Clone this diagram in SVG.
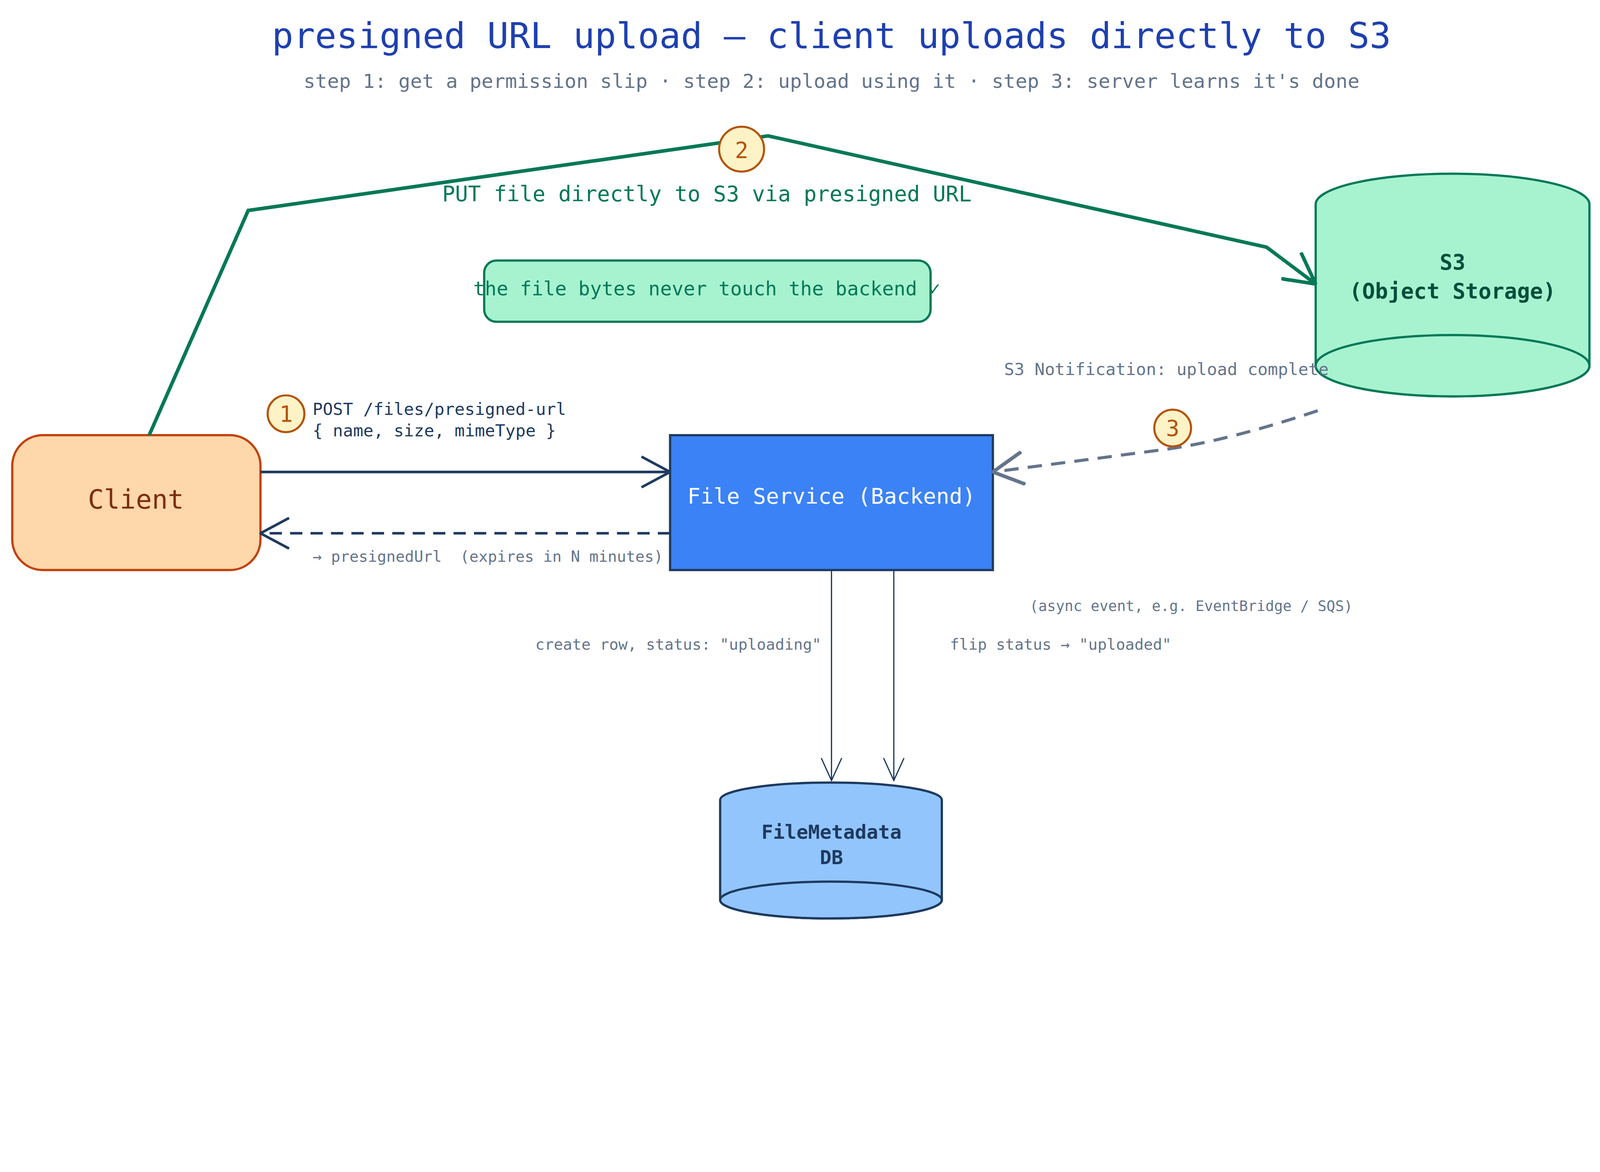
<svg xmlns="http://www.w3.org/2000/svg" width="5160" height="3000" viewBox="0 0 5160 3000">
<defs>
<style>
text{font-family:"DejaVu Sans Mono","Liberation Mono",monospace}
.c{text-anchor:middle}
.badge circle{fill:#fef3c7;stroke:#b45309;stroke-width:2}
.badge text{fill:#b45309;font-size:22px;text-anchor:middle}
.lbl{fill:#64748b}
</style>
<marker id="mNavy" markerUnits="userSpaceOnUse" viewBox="0 0 30 32" refX="29" refY="16" markerWidth="30" markerHeight="32" orient="auto"><polyline points="1,1 29,16 1,31" fill="none" stroke="#1e3a5f" stroke-width="2.5"/></marker>
<marker id="mGreen" markerUnits="userSpaceOnUse" viewBox="0 0 32 34" refX="31" refY="17" markerWidth="32" markerHeight="34" orient="auto"><polyline points="1,1 31,17 1,33" fill="none" stroke="#047857" stroke-width="3.5"/></marker>
<marker id="mGray" markerUnits="userSpaceOnUse" viewBox="0 0 32 34" refX="31" refY="17" markerWidth="32" markerHeight="34" orient="auto"><polyline points="1,1 31,17 1,33" fill="none" stroke="#64748b" stroke-width="3.5"/></marker>
<marker id="mThin" markerUnits="userSpaceOnUse" viewBox="0 0 24 22" refX="23" refY="11" markerWidth="24" markerHeight="22" orient="auto"><polyline points="1,1 23,11 1,21" fill="none" stroke="#1e3a5f" stroke-width="1.2"/></marker>
</defs>
<rect width="5160" height="3000" fill="#ffffff"/>
<g transform="scale(2.615)">
<text x="814" y="47" class="c" font-size="35" fill="#1e40af">presigned URL upload — client uploads directly to S3</text>
<text x="814" y="86" class="c" font-size="19.3" fill="#64748b">step 1: get a permission slip · step 2: upload using it · step 3: server learns it's done</text>

<g id="client">
<rect x="12" y="426" width="243" height="132" rx="30" fill="#fed7aa" stroke="#c2410c" stroke-width="2.2"/>
<text x="133" y="498" class="c" font-size="26" fill="#7c2d12">Client</text>
</g>
<g id="fileService">
<rect x="656" y="426" width="316" height="132" fill="#3b82f6" stroke="#1e3a5f" stroke-width="2.2"/>
<text x="814" y="493" class="c" font-size="21.3" fill="#ffffff">File Service (Backend)</text>
</g>
<g id="s3">
<path d="M1288,200 A134,30 0 0 1 1556,200 L1556,358 A134,30 0 0 1 1288,358 Z" fill="#a7f3d0" stroke="#047857" stroke-width="2.2"/>
<ellipse cx="1422" cy="358" rx="134" ry="30" fill="#a7f3d0" stroke="#047857" stroke-width="2.2"/>
<text x="1422" y="264" class="c" font-size="21" font-weight="bold" fill="#064e3b">S3</text>
<text x="1422" y="292" class="c" font-size="21" font-weight="bold" fill="#064e3b">(Object Storage)</text>
</g>
<g id="note">
<rect x="474" y="255" width="437" height="60" rx="12" fill="#a7f3d0" stroke="#047857" stroke-width="2.2"/>
<text x="692" y="289" class="c" font-size="19" fill="#047857">the file bytes never touch the backend ✓</text>
</g>
<g id="db">
<path d="M705,783 A108.5,17 0 0 1 922,783 L922,881 A108.5,18 0 0 1 705,881 Z" fill="#93c5fd" stroke="#1e3a5f" stroke-width="2.2"/>
<ellipse cx="813.5" cy="881" rx="108.5" ry="18" fill="#93c5fd" stroke="#1e3a5f" stroke-width="2.2"/>
<text x="814" y="821" class="c" font-size="19" font-weight="bold" fill="#1e3a5f">FileMetadata</text>
<text x="814" y="846" class="c" font-size="19" font-weight="bold" fill="#1e3a5f">DB</text>
</g>

<g id="connectors">
<path d="M146,426 L243,206 L752,133 L1240,242 L1288,278" fill="none" stroke="#047857" stroke-width="3.5" marker-end="url(#mGreen)"/>
<text x="692" y="197" class="c" font-size="21" fill="#047857">PUT file directly to S3 via presigned URL</text>
<line x1="255" y1="462" x2="656" y2="462" stroke="#1e3a5f" stroke-width="2.5" marker-end="url(#mNavy)"/>
<text x="306" y="406" font-size="16.5" fill="#1e3a5f">POST /files/presigned-url</text>
<text x="306" y="427" font-size="16.5" fill="#1e3a5f">{ name, size, mimeType }</text>
<line x1="656" y1="522" x2="255" y2="522" stroke="#1e3a5f" stroke-width="2.5" stroke-dasharray="12,8" marker-end="url(#mNavy)"/>
<text x="306" y="550" font-size="15" class="lbl" xml:space="preserve">→ presignedUrl  (expires in N minutes)</text>
<path d="M1290,402 Q1200,432 1140,440 L972,462" fill="none" stroke="#64748b" stroke-width="3" stroke-dasharray="14,9" marker-end="url(#mGray)"/>
<text x="983" y="367" font-size="16.5" class="lbl">S3 Notification: upload complete</text>
<text x="1008" y="598" font-size="14.2" class="lbl">(async event, e.g. EventBridge / SQS)</text>
<line x1="814" y1="558" x2="814" y2="764" stroke="#1e3a5f" stroke-width="1.2" marker-end="url(#mThin)"/>
<line x1="875" y1="558" x2="875" y2="764" stroke="#1e3a5f" stroke-width="1.2" marker-end="url(#mThin)"/>
<text x="804" y="636" font-size="15" class="lbl" text-anchor="end">create row, status: "uploading"</text>
<text x="930" y="636" font-size="15" class="lbl">flip status → "uploaded"</text>
</g>

<g id="badge1" class="badge"><circle cx="280" cy="405" r="18"/><text x="280" y="413">1</text></g>
<g id="badge2" class="badge"><circle cx="726" cy="146" r="22"/><text x="726" y="155" font-size="25">2</text></g>
<g id="badge3" class="badge"><circle cx="1148" cy="419" r="18"/><text x="1148" y="427">3</text></g>
</g>
</svg>
